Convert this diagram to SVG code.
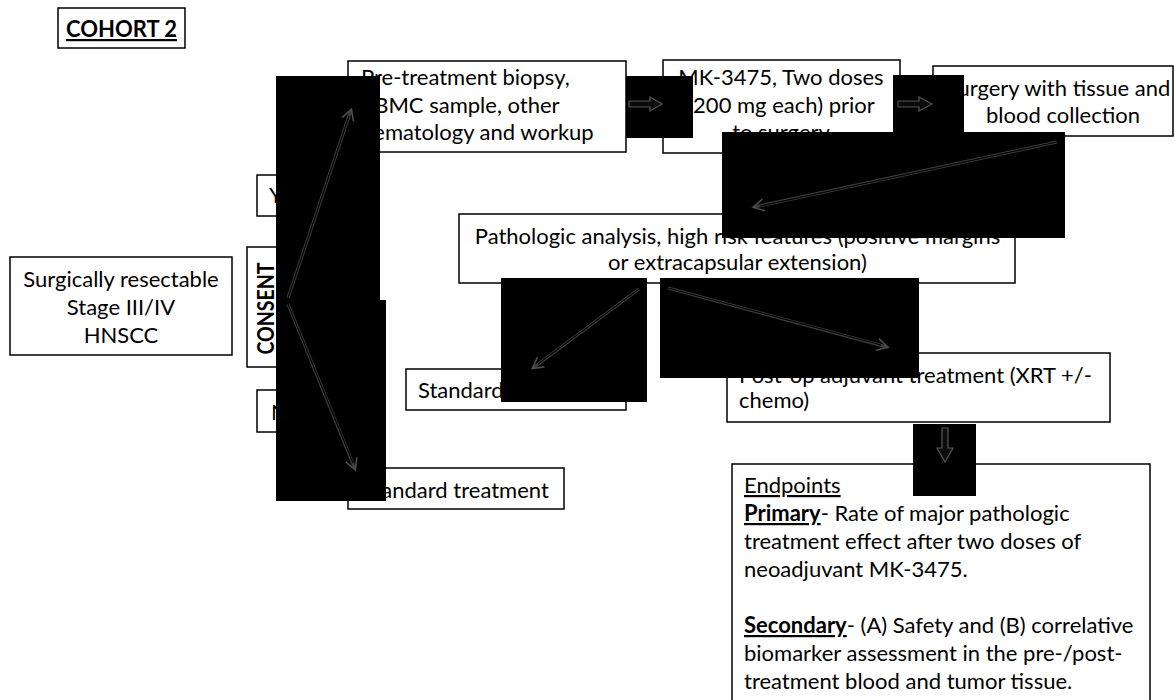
<svg xmlns="http://www.w3.org/2000/svg" width="1175" height="700" viewBox="0 0 1175 700">
<defs>
<style>
.box{fill:#fff;stroke:#000;stroke-width:1.5}
.t{font-family:Lato,"Open Sans","Liberation Sans",sans-serif;font-size:22px;fill:#000}
.c{text-anchor:middle}
.b{font-weight:bold}
.u{text-decoration:underline}
.mask{fill:#000}
.co{fill:none;stroke:#3e3e3e;stroke-width:3.2}
.ci{fill:none;stroke:#000;stroke-width:1.2}
.blk{fill:#0c0c0c;stroke:#555;stroke-width:1.2}
</style>
<marker id="ah" viewBox="0 0 14 14" refX="11" refY="7" markerWidth="14" markerHeight="14" markerUnits="userSpaceOnUse" orient="auto">
<path d="M1,1 L12,7 L1,13" fill="none" stroke="#4e4e4e" stroke-width="1.6"/>
</marker>
</defs>
<rect width="1175" height="700" fill="#fff"/>

<g id="cohort"><rect class="box" x="58" y="8" width="127" height="40"/><text class="t c b u" x="121.5" y="37">COHORT 2</text></g>

<g id="population"><rect class="box" x="10" y="257" width="222" height="98"/>
<text class="t c" x="121" y="287">Surgically resectable</text>
<text class="t c" x="121" y="315">Stage III/IV</text>
<text class="t c" x="121" y="343">HNSCC</text></g>

<g id="consent"><rect class="box" x="247" y="247" width="44" height="120"/>
<text class="t c b" transform="translate(273.5,308.5) rotate(-90)" x="0" y="0" font-size="18" textLength="92" lengthAdjust="spacingAndGlyphs">CONSENT</text></g>

<g id="yes"><rect class="box" x="257" y="175" width="58" height="41"/><text class="t" x="269" y="203">YES</text></g>
<g id="no"><rect class="box" x="257" y="390" width="58" height="42"/><text class="t" x="271" y="420">NO</text></g>

<g id="pretreatment"><rect class="box" x="348" y="61" width="278" height="91"/>
<text class="t" x="361" y="85">Pre-treatment biopsy,</text>
<text class="t" x="361" y="113">PBMC sample, other</text>
<text class="t" x="361" y="140">hematology and workup</text></g>

<g id="mk3475"><rect class="box" x="663" y="60" width="237" height="93"/>
<text class="t c" x="781" y="85">MK-3475, Two doses</text>
<text class="t c" x="781" y="113">(200 mg each) prior</text>
<text class="t c" x="781" y="140">to surgery</text></g>

<g id="surgery"><rect class="box" x="933" y="66" width="240" height="70"/>
<text class="t c" x="1058" y="96">Surgery with tissue and</text>
<text class="t c" x="1063" y="123">blood collection</text></g>

<g id="pathologic"><rect class="box" x="459" y="214" width="556" height="69"/>
<text class="t c" x="737.5" y="244">Pathologic analysis, high risk features (positive margins</text>
<text class="t c" x="737.5" y="270">or extracapsular extension)</text></g>

<g id="standard1"><rect class="box" x="406" y="369" width="220" height="41"/><text class="t" x="418" y="398">Standard treatment</text></g>
<g id="standard2"><rect class="box" x="348" y="468" width="216" height="41"/><text class="t" x="362" y="498">Standard treatment</text></g>

<g id="postop"><rect class="box" x="727" y="353" width="383" height="69"/>
<text class="t" x="739" y="383">Post-op adjuvant treatment (XRT +/-</text>
<text class="t" x="739" y="408">chemo)</text></g>

<g id="endpoints"><rect class="box" x="732" y="464" width="418" height="250"/>
<text class="t" x="744" y="493"><tspan class="u">Endpoints</tspan></text>
<text class="t" x="744" y="521"><tspan class="b u">Primary</tspan>- Rate of major pathologic</text>
<text class="t" x="744" y="549">treatment effect after two doses of</text>
<text class="t" x="744" y="577">neoadjuvant MK-3475.</text>
<text class="t" x="744" y="633"><tspan class="b u">Secondary</tspan>- (A) Safety and (B) correlative</text>
<text class="t" x="744" y="661">biomarker assessment in the pre-/post-</text>
<text class="t" x="744" y="689">treatment blood and tumor tissue.</text></g>

<g id="connectors">
<rect class="mask" x="276" y="76" width="104" height="224"/>
<rect class="mask" x="276" y="300" width="110" height="201"/>
<rect class="mask" x="626" y="76" width="67" height="62"/>
<rect class="mask" x="893" y="75" width="71" height="57"/>
<rect class="mask" x="722" y="132" width="343" height="106"/>
<rect class="mask" x="501" y="278" width="146" height="124"/>
<rect class="mask" x="660" y="278" width="259" height="100"/>
<rect class="mask" x="913" y="424" width="63" height="72"/>

<path class="co" d="M288,298 L351,110" marker-end="url(#ah)"/><path class="ci" d="M288,298 L349,116"/>
<path class="co" d="M288,304 L355,469" marker-end="url(#ah)"/><path class="ci" d="M288,304 L353,463"/>
<path class="co" d="M1057,142 L754,207" marker-end="url(#ah)"/><path class="ci" d="M1057,142 L760,206"/>
<path class="co" d="M639,289 L533,368" marker-end="url(#ah)"/><path class="ci" d="M639,289 L538,364"/>
<path class="co" d="M668,288 L887,347" marker-end="url(#ah)"/><path class="ci" d="M668,288 L881,345"/>
<polygon class="blk" points="629,101 650,101 650,97 662,104 650,111 650,107 629,107"/>
<polygon class="blk" points="898,101 919,101 919,97 932,104 919,111 919,107 898,107"/>
<polygon class="blk" points="942,428 948,428 948,448 953,448 945,462 937,448 942,448"/>
</g>
</svg>
